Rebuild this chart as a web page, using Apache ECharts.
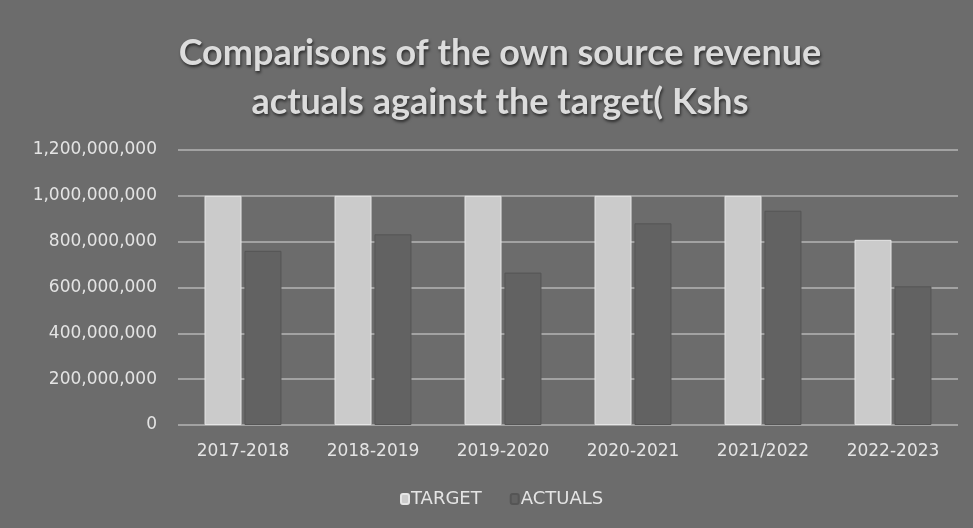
<!DOCTYPE html>
<html>
<head>
<meta charset="utf-8">
<script src="https://cdn.jsdelivr.net/npm/echarts@6/dist/echarts.min.js"></script>
<style>
  html, body { margin: 0; padding: 0; background: #6c6c6c; }
  #chart { width: 973px; height: 528px; }
</style>
</head>
<body>
<div id="chart"></div>
<script>
const years = ['2017-2018', '2018-2019', '2019-2020', '2020-2021', '2021/2022', '2022-2023'];
const target = [1000000000, 1000000000, 1000000000, 1000000000, 1000000000, 808000000];
const actuals = [760000000, 832000000, 665000000, 880000000, 935000000, 605000000];

const chart = echarts.init(document.getElementById('chart'));

const option = {
  backgroundColor: '#6c6c6c',
  title: {
    text: 'Comparisons of the own source revenue\nactuals against the target( Kshs',
    left: 495,
    top: 24,
    textAlign: 'center',
    textStyle: {
      fontFamily: 'Lato',
      fontWeight: 'bold',
      fontSize: 36,
      lineHeight: 49,
      color: '#dcdcdc',
      textShadowColor: 'rgba(0,0,0,0.6)',
      textShadowBlur: 3,
      textShadowOffsetX: 1,
      textShadowOffsetY: 2
    }
  },
  legend: {
    data: ['TARGET', 'ACTUALS'],
    bottom: 15,
    left: 395,
    itemWidth: 8,
    itemHeight: 10,
    itemGap: 28,
    textStyle: { color: '#e4e4e4', fontFamily: 'DejaVu Sans', fontSize: 18, padding: [0, 0, 0, -3] }
  },
  grid: { left: 178, right: 15, top: 150, bottom: 103 },
  xAxis: {
    type: 'category',
    data: years,
    axisLine: { show: false },
    axisTick: { show: false },
    axisLabel: { color: '#e4e4e4', fontFamily: 'DejaVu Sans', fontSize: 17, margin: 18 }
  },
  yAxis: {
    type: 'value',
    min: 0,
    max: 1200000000,
    interval: 200000000,
    axisLine: { show: false },
    axisTick: { show: false },
    axisLabel: {
      color: '#e4e4e4',
      fontFamily: 'DejaVu Sans',
      fontSize: 17,
      margin: 21,
      formatter: v => v.toLocaleString('en-US')
    },
    splitLine: { lineStyle: { color: '#b4b4b4', width: 1.5 } }
  },
  series: [
    {
      name: 'TARGET',
      type: 'bar',
      data: target,
      barWidth: 37,
      barGap: '8%',
      itemStyle: { color: '#cbcbcb', borderColor: '#e6e6e6', borderWidth: 1 }
    },
    {
      name: 'ACTUALS',
      type: 'bar',
      data: actuals,
      barWidth: 37,
      itemStyle: { color: '#626262', borderColor: '#555555', borderWidth: 1 }
    }
  ]
};

chart.setOption(option);
</script>
</body>
</html>
